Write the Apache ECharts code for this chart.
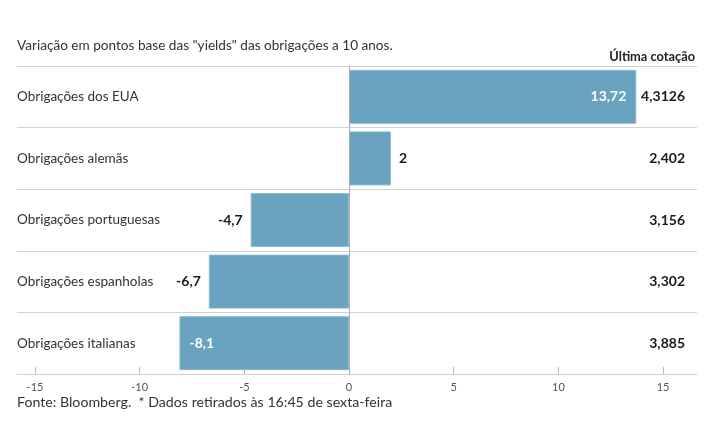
<!DOCTYPE html>
<html>
<head>
<meta charset="utf-8">
<script src="https://cdn.jsdelivr.net/npm/echarts@6/dist/echarts.min.js"></script>
<style>
html,body{margin:0;padding:0;background:#fff;}
#c{width:715px;height:445px;}
</style>
</head>
<body>
<div id="c"></div>
<script>
var categories = ["Obrigações dos EUA", "Obrigações alemãs", "Obrigações portuguesas", "Obrigações espanholas", "Obrigações italianas"];
var changes = [13.72, 2, -4.7, -6.7, -8.1];
var quotes = ["4,3126", "2,402", "3,156", "3,302", "3,885"];
var xTicks = [-15, -10, -5, 0, 5, 10, 15];
var titleText = 'Variação em pontos base das "yields" das obrigações a 10 anos.';
var quoteHeader = 'Última cotação';
var footerText = 'Fonte: Bloomberg.  * Dados retirados às 16:45 de sexta-feira';

var FONT = 'Lato';
function fmt(v){ return String(v).replace('.', ','); }

var barData = changes.map(function(v){
  var inside = Math.abs(v) > 8;
  var pos = inside ? (v > 0 ? 'insideRight' : 'insideLeft') : (v > 0 ? 'right' : 'left');
  return {
    value: v,
    label: {
      show: true,
      position: pos,
      distance: inside ? 10 : 8,
      color: inside ? '#ffffff' : '#1a1a1a',
      fontWeight: 'bold',
      fontSize: 14,
      fontFamily: FONT,
      formatter: function(p){ return fmt(p.value); }
    }
  };
});

var chart = echarts.init(document.getElementById('c'));
chart.setOption({
  animation: false,
  backgroundColor: '#ffffff',
  title: [
    { text: titleText, left: 17, top: 39, padding: 0, textStyle: { fontFamily: FONT, fontSize: 13.6, fontWeight: 'normal', color: '#333' } },
    { text: quoteHeader, right: 20, top: 50, padding: 0, textStyle: { fontFamily: FONT, fontSize: 12.8, fontWeight: 'bold', color: '#222' } },
    { text: footerText, left: 17, top: 395, padding: 0, textStyle: { fontFamily: FONT, fontSize: 14.2, fontWeight: 'normal', color: '#333' } }
  ],
  grid: { left: 17, right: 18, top: 66, bottom: 71, containLabel: false },
  xAxis: {
    type: 'value',
    min: -15.86,
    max: 16.62,
    axisLine: { show: true, lineStyle: { color: '#cfcfcf', width: 1 } },
    axisTick: { show: true, inside: true, length: 7, customValues: xTicks, lineStyle: { color: '#bbb' } },
    axisLabel: { customValues: xTicks, color: '#555', fontFamily: FONT, fontSize: 11, margin: 8 },
    splitLine: { show: false }
  },
  yAxis: [
    {
      type: 'category',
      data: categories,
      inverse: true,
      position: 'left',
      axisLine: { show: false },
      axisTick: { show: false },
      axisLabel: { inside: true, margin: 0, color: '#333', fontFamily: FONT, fontSize: 13.5 },
      splitLine: { show: true, lineStyle: { color: '#d3d3d3', width: 1 } }
    },
    {
      type: 'category',
      data: categories,
      inverse: true,
      position: 'right',
      axisLine: { show: false },
      axisTick: { show: false },
      axisLabel: {
        inside: true, margin: 12, color: '#1a1a1a', fontFamily: FONT, fontSize: 14, fontWeight: 'bold',
        formatter: function(v, i){ return quotes[i]; }
      },
      splitLine: { show: false }
    }
  ],
  series: [{
    type: 'bar',
    data: barData,
    barWidth: 54,
    itemStyle: { color: '#6aa3bf', borderColor: '#8cbad0', borderWidth: 1 },
    markLine: {
      silent: true,
      symbol: 'none',
      label: { show: false },
      lineStyle: { color: '#aaaaaa', type: 'solid', width: 1 },
      data: [{ xAxis: 0 }]
    }
  }]
});
</script>
</body>
</html>
